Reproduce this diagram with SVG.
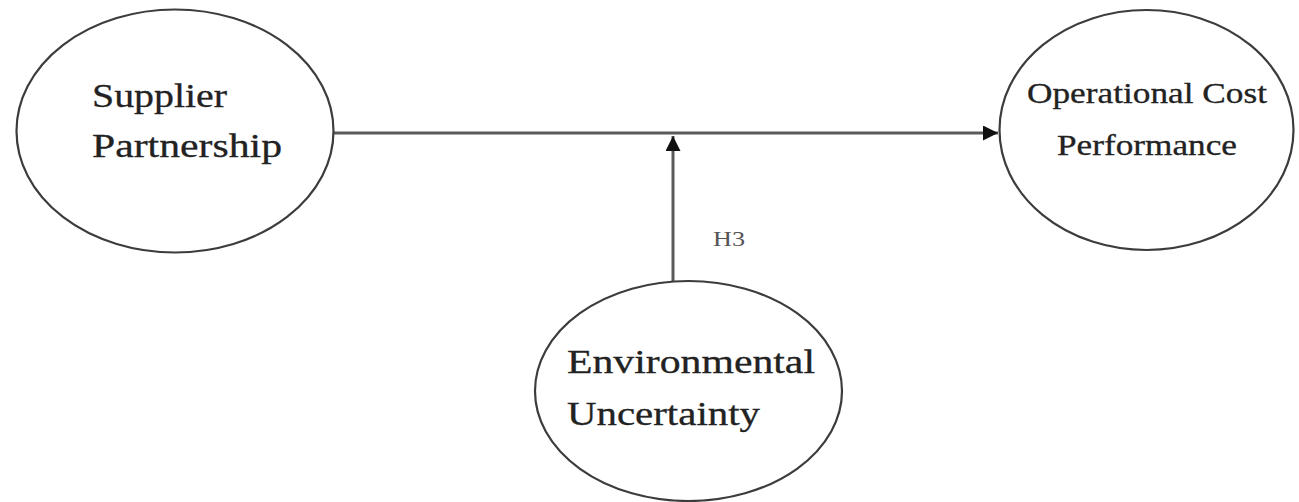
<svg xmlns="http://www.w3.org/2000/svg" width="1299" height="502" viewBox="0 0 1299 502">
  <style>
    .node { fill: #ffffff; stroke: #3c3c3c; stroke-width: 2.2; }
    .label { font-family: "Liberation Serif", "Times New Roman", serif; fill: #222222; stroke: #222222; stroke-width: 0.3; }
    .big { font-size: 33px; }
    .mid { font-size: 29px; }
    .small { font-size: 21px; fill: #555555; stroke: none; }
    .edge { stroke: #5a5a5a; stroke-width: 3; fill: none; }
  </style>
  <defs>
    <marker id="arrow" viewBox="0 0 10 10" refX="10" refY="5" markerWidth="7" markerHeight="5" markerUnits="strokeWidth" orient="auto">
      <path d="M0,0 L10,5 L0,10 Z" fill="#111111"/>
    </marker>
  </defs>
  <rect width="1299" height="502" fill="#ffffff"/>

  <g id="connectors">
    <line class="edge" x1="333" y1="133" x2="998" y2="133" marker-end="url(#arrow)"/>
    <line class="edge" x1="673" y1="281" x2="673" y2="136" marker-end="url(#arrow)"/>
    <text class="label small" x="713" y="246" textLength="32" lengthAdjust="spacingAndGlyphs">H3</text>
  </g>

  <g id="supplier-partnership">
    <ellipse class="node" cx="175" cy="131" rx="158.5" ry="121.5"/>
    <text class="label big" x="92" y="107" textLength="135" lengthAdjust="spacingAndGlyphs">Supplier</text>
    <text class="label big" x="92" y="157" textLength="190" lengthAdjust="spacingAndGlyphs">Partnership</text>
  </g>

  <g id="operational-cost-performance">
    <ellipse class="node" cx="1146.5" cy="130" rx="147" ry="120"/>
    <text class="label mid" x="1027" y="103" textLength="240" lengthAdjust="spacingAndGlyphs">Operational Cost</text>
    <text class="label mid" x="1057" y="155" textLength="180" lengthAdjust="spacingAndGlyphs">Performance</text>
  </g>

  <g id="environmental-uncertainty">
    <ellipse class="node" cx="688.5" cy="391" rx="153.5" ry="110"/>
    <text class="label big" x="567" y="373" textLength="248" lengthAdjust="spacingAndGlyphs">Environmental</text>
    <text class="label big" x="567" y="425" textLength="193" lengthAdjust="spacingAndGlyphs">Uncertainty</text>
  </g>
</svg>
